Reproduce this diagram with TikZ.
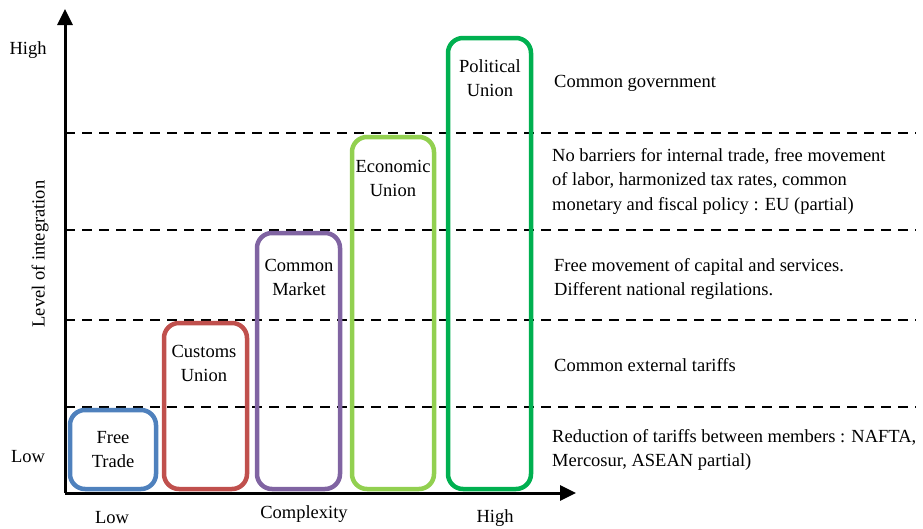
\documentclass[tikz,border=0pt]{standalone}
\usepackage{fontspec}
\setmainfont{Liberation Serif}
\usetikzlibrary{arrows.meta}
\definecolor{ftblue}{HTML}{4F81BD}
\definecolor{cured}{HTML}{C0504D}
\definecolor{cmpurple}{HTML}{8064A2}
\definecolor{eulime}{HTML}{92D050}
\definecolor{pugreen}{HTML}{00B050}
\tikzset{
  stage/.style={draw=#1, line width=4.5pt, rounded corners=15pt, inner sep=0pt},
  stagetext/.style={align=center, anchor=north, font=\fontsize{18.5}{24.5}\selectfont, inner sep=0pt},
  desc/.style={align=left, anchor=west, font=\fontsize{18.5}{24.5}\selectfont, inner sep=0pt},
  axislabel/.style={font=\fontsize{18.5}{22}\selectfont, inner sep=0pt},
  axisline/.style={line width=3pt, -{Triangle[length=16pt,width=15pt]}},
  level/.style={line width=1.6pt, dash pattern=on 10pt off 7pt},
}
\begin{document}
\begin{tikzpicture}[x=1pt,y=-1pt]
\useasboundingbox (0,0) rectangle (923,528);

% axes
\coordinate (origin) at (65,493);
\coordinate (ytip) at (65,9);
\coordinate (xtip) at (576,493);
\draw[axisline] (origin) -- (ytip);
\draw[axisline] (origin) -- (xtip);

% level separators
\foreach \yy/\nm in {133/a,230/b,320/c,407/d}{
  \coordinate (l\nm) at (65,\yy);
  \coordinate (r\nm) at (916,\yy);
  \draw[level] (l\nm) -- (r\nm);
}

% stages
\node[stage=ftblue, minimum width=86pt, minimum height=79pt] (ft) at (113,449.5) {};
\node[stage=cured, minimum width=83pt, minimum height=166pt] (cu) at (205.5,406) {};
\node[stage=cmpurple, minimum width=83pt, minimum height=256pt] (cm) at (298.5,361) {};
\node[stage=eulime, minimum width=82pt, minimum height=352pt] (eu) at (393,313) {};
\node[stage=pugreen, minimum width=83pt, minimum height=451pt] (pu) at (489.5,263.5) {};

\node[stagetext] (ftt) at (113,431) {Free\\Trade};
\node[stagetext] (cut) at (204,345) {Customs\\Union};
\node[stagetext] (cmt) at (299,259) {Common\\Market};
\node[stagetext] (eut) at (393,160) {Economic\\Union};
\node[stagetext] (put) at (490,59) {Political\\Union};

% descriptions
\node[desc] (d5) at (554,83) {Common government};
\node[desc] (d4) at (552,181) {No barriers for internal trade, free movement\\of labor, harmonized tax rates, common\\monetary and fiscal policy : EU (partial)};
\node[desc] (d3) at (554,279) {Free movement of capital and services.\\Different national regilations.};
\node[desc] (d2) at (554,365) {Common external tariffs};
\node[desc] (d1) at (552,450) {Reduction of tariffs between members : NAFTA,\\Mercosur, ASEAN partial)};

% axis labels
\node[axislabel] (yhigh) at (28,50) {High};
\node[axislabel] (ylow) at (28,457) {Low};
\node[axislabel, rotate=90] (ytitle) at (40,254) {Level of integration};
\node[axislabel] (xlow) at (112,518) {Low};
\node[axislabel] (xtitle) at (304,514) {Complexity};
\node[axislabel] (xhigh) at (495,518) {High};
\end{tikzpicture}
\end{document}
